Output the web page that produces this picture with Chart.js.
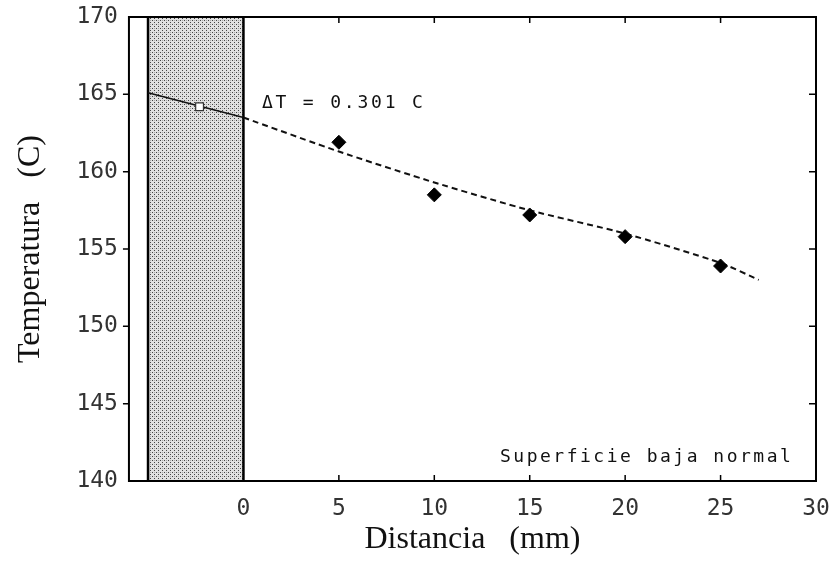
<!DOCTYPE html>
<html>
<head>
<meta charset="utf-8">
<script src="https://cdn.jsdelivr.net/npm/chart.js@4"></script>
<style>
  html, body { margin: 0; padding: 0; background: #fff; }
  #wrap { width: 836px; height: 561px; }
</style>
</head>
<body>
<div id="wrap"><canvas id="tempChart"></canvas></div>
<script>
// axis ticks
const xTicks = [0, 5, 10, 15, 20, 25, 30];
const yTicks = [140, 145, 150, 155, 160, 165, 170];

// measured points (diamonds)
const measX = [5, 10, 15, 20, 25];
const measY = [161.9, 158.5, 157.2, 155.8, 153.9];

// fitted profile in the fluid (dashed)
const fitX = [0, 5, 10, 15, 20, 25, 27];
const fitY = [163.5, 161.3, 159.3, 157.5, 156.0, 154.1, 153.0];

// profile inside the wall (solid)
const wallX = [-5, 0];
const wallY = [165.1, 163.5];

// surface temperature mark (open square)
const surfX = [-2.3];
const surfY = [164.2];

// shaded wall region
const shadeX = [-5, 0];

const pts = (xs, ys) => xs.map((x, i) => ({ x: x, y: ys[i] }));

// stipple pattern for the wall
function stipple() {
    const c = document.createElement('canvas');
    c.width = 4; c.height = 4;
    const g = c.getContext('2d');
    g.fillStyle = '#e0e0e0';
    g.fillRect(0, 0, 4, 4);
    g.fillStyle = '#444';
    g.fillRect(0, 0, 1, 1);
    g.fillRect(2, 2, 1, 1);
    g.fillStyle = '#a8a8a8';
    g.fillRect(2, 0, 1, 1);
    return g.createPattern(c, 'repeat');
}

const frameAndText = {
    id: 'frameAndText',
    afterDatasetsDraw(chart) {
        const { ctx, chartArea: a, scales: { x, y } } = chart;
        ctx.save();
        ctx.strokeStyle = '#000';
        ctx.lineWidth = 2;
        ctx.strokeRect(a.left, a.top, a.right - a.left, a.bottom - a.top);
        ctx.lineWidth = 1.5;
        ctx.beginPath();
        xTicks.forEach(v => {
            if (v <= 0 || v >= 30) return;
            const px = x.getPixelForValue(v);
            ctx.moveTo(px, a.bottom); ctx.lineTo(px, a.bottom - 6);
            ctx.moveTo(px, a.top); ctx.lineTo(px, a.top + 6);
        });
        yTicks.forEach(v => {
            if (v <= 140 || v >= 170) return;
            const py = y.getPixelForValue(v);
            ctx.moveTo(a.left, py); ctx.lineTo(a.left - 6, py);
            ctx.moveTo(a.right, py); ctx.lineTo(a.right - 7, py);
        });
        ctx.stroke();

        ctx.fillStyle = '#111';
        ctx.textBaseline = 'middle';
        ctx.textAlign = 'left';
        ctx.font = '18px "DejaVu Sans Mono"';
        ctx.letterSpacing = '2.8px';
        ctx.fillText('\u0394T = 0.301 C', x.getPixelForValue(0.97), y.getPixelForValue(164.4));
        ctx.letterSpacing = '2.5px';
        ctx.fillText('Superficie baja normal', x.getPixelForValue(13.44), y.getPixelForValue(141.55));
        ctx.restore();
    }
};

const ctx = document.getElementById('tempChart').getContext('2d');
const tempChart = new Chart(ctx, {
    type: 'scatter',
    data: {
        datasets: [
            {
                label: 'Medido',
                data: pts(measX, measY),
                pointStyle: 'rectRot',
                pointRadius: 7,
                backgroundColor: '#000',
                borderColor: '#000',
                order: 0
            },
            {
                label: 'Superficie',
                data: pts(surfX, surfY),
                pointStyle: 'rect',
                pointRadius: 5.5,
                backgroundColor: '#fff',
                borderColor: '#333',
                borderWidth: 1.2,
                order: 1
            },
            {
                label: 'Pared perfil',
                data: pts(wallX, wallY),
                showLine: true,
                borderColor: '#111',
                borderWidth: 1.5,
                pointRadius: 0,
                order: 2
            },
            {
                label: 'Ajuste',
                data: pts(fitX, fitY),
                showLine: true,
                borderColor: '#111',
                borderWidth: 2,
                borderDash: [6, 4],
                tension: 0.2,
                pointRadius: 0,
                order: 3
            },
            {
                label: 'Borde izq',
                data: [{ x: shadeX[0], y: 140 }, { x: shadeX[0], y: 170 }],
                showLine: true,
                borderColor: '#000',
                borderWidth: 2.5,
                pointRadius: 0,
                order: 4
            },
            {
                label: 'Borde der',
                data: [{ x: shadeX[1], y: 140 }, { x: shadeX[1], y: 170 }],
                showLine: true,
                borderColor: '#000',
                borderWidth: 2.5,
                pointRadius: 0,
                order: 5
            },
            {
                label: 'Pared',
                data: pts(shadeX, shadeX.map(() => 170)),
                showLine: true,
                fill: 'start',
                backgroundColor: stipple(),
                borderWidth: 0,
                pointRadius: 0,
                order: 10
            }
        ]
    },
    options: {
        responsive: true,
        maintainAspectRatio: false,
        animation: false,
        layout: { padding: { top: 17, right: 20, left: 10, bottom: 0 } },
        plugins: {
            legend: { display: false },
            tooltip: { enabled: false }
        },
        scales: {
            x: {
                type: 'linear',
                min: -6,
                max: 30,
                afterBuildTicks: axis => { axis.ticks = xTicks.map(v => ({ value: v })); },
                afterFit: axis => { axis.paddingLeft = 0; axis.paddingRight = 0; },
                grid: { display: false, drawTicks: false },
                border: { display: false },
                ticks: {
                    padding: 14,
                    maxRotation: 0,
                    color: '#333',
                    font: { family: 'DejaVu Sans Mono', size: 23 }
                },
                title: {
                    display: true,
                    text: 'Distancia   (mm)',
                    color: '#111',
                    padding: { top: -16, bottom: 2 },
                    font: { family: 'Liberation Serif', size: 32 }
                }
            },
            y: {
                min: 140,
                max: 170,
                afterBuildTicks: axis => { axis.ticks = yTicks.map(v => ({ value: v })); },
                afterFit: axis => { axis.paddingTop = 0; axis.paddingBottom = 0; },
                grid: { display: false, drawTicks: false },
                border: { display: false },
                ticks: {
                    padding: 11,
                    color: '#333',
                    font: { family: 'DejaVu Sans Mono', size: 23 }
                },
                title: {
                    display: true,
                    text: 'Temperatura   (C)',
                    color: '#111',
                    padding: { top: 1, bottom: 16 },
                    font: { family: 'Liberation Serif', size: 32 }
                }
            }
        }
    },
    plugins: [frameAndText]
});
</script>
</body>
</html>
